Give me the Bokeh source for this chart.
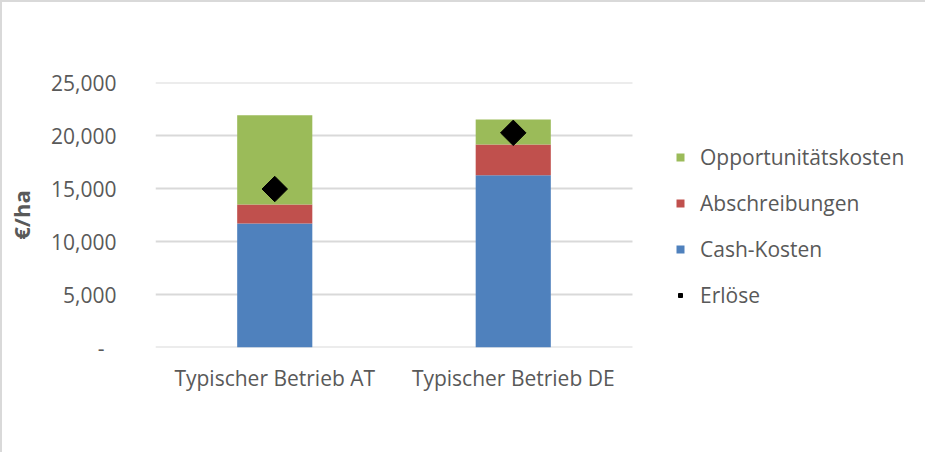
import numpy as np
from bokeh.plotting import figure
from bokeh.models import (ColumnDataSource, FixedTicker, NumeralTickFormatter,
                          Legend, LegendItem, Range1d)
from bokeh.embed import file_html
from bokeh.resources import INLINE

categories = ["Typischer Betrieb AT", "Typischer Betrieb DE"]
cash_kosten = [11700, 16250]
abschreibungen = [1800, 2900]
opportunitaetskosten = [8400, 2350]
erloese = [14950, 20250]
y_ticks = [0, 5000, 10000, 15000, 20000, 25000]

stack_names = ["cash", "abschr", "opp"]
colors = ["#4f81bd", "#c0504d", "#9bbb59"]
labels = ["Cash-Kosten", "Abschreibungen", "Opportunitätskosten"]

n = len(categories)
xpos = [i + 0.5 for i in range(n)]
src = ColumnDataSource(dict(x=xpos, cash=cash_kosten, abschr=abschreibungen,
                            opp=opportunitaetskosten, erl=erloese))

FONT = "Open Sans"
GRAY = "#595959"
W, LEFT = 925, 153
# category slot width in px (plot area of 2 categories is 477 px wide)
slot_px = 477 / n
x_end = (W - LEFT) / slot_px

p = figure(width=W, height=452, x_range=Range1d(0, x_end),
           y_range=Range1d(0, 25000), output_backend="svg", toolbar_location=None,
           min_border_left=LEFT, min_border_right=0, min_border_top=80,
           min_border_bottom=107,
           styles={"border-left": "2px solid #d9d9d9", "border-top": "2px solid #d9d9d9"})
p.outline_line_color = None
p.xgrid.grid_line_color = None
p.ygrid.grid_line_color = None

# horizontal gridlines limited to the category area
grid_src = ColumnDataSource(dict(y=y_ticks, x0=[0] * len(y_ticks), x1=[n] * len(y_ticks)))
p.segment(x0="x0", x1="x1", y0="y", y1="y", source=grid_src,
          line_color="#d9d9d9", line_width=2)

rs = p.vbar_stack(stack_names, x="x", width=0.315, color=colors, source=src,
                  line_color=None)
dia = p.scatter(x="x", y="erl", source=src, marker="square", angle=np.pi / 4,
                size=18, color="black")

p.xaxis.ticker = FixedTicker(ticks=xpos)
p.xaxis.major_label_overrides = {x: c for x, c in zip(xpos, categories)}
p.yaxis.ticker = FixedTicker(ticks=y_ticks)
p.yaxis.formatter = NumeralTickFormatter(format="0,0")
p.yaxis.major_label_overrides = {0: "-\u2007"}
for ax in (p.xaxis, p.yaxis):
    ax.axis_line_color = None
    ax.major_tick_line_color = None
    ax.minor_tick_line_color = None
    ax.major_label_text_font = FONT
    ax.major_label_text_font_size = "21px"
    ax.major_label_text_color = GRAY
p.yaxis.major_label_standoff = 33
p.xaxis.major_label_standoff = 10
p.yaxis.axis_label = "€/ha"
p.yaxis.axis_label_text_font = FONT
p.yaxis.axis_label_text_font_size = "22px"
p.yaxis.axis_label_text_font_style = "bold"
p.yaxis.axis_label_text_color = GRAY
p.yaxis.axis_label_standoff = 12

items = [LegendItem(label=labels[2], renderers=[rs[2]]),
         LegendItem(label=labels[1], renderers=[rs[1]]),
         LegendItem(label=labels[0], renderers=[rs[0]]),
         LegendItem(label="Erlöse", renderers=[dia])]
legend = Legend(items=items, location=(520, 38), orientation="vertical",
                background_fill_alpha=0, border_line_color=None,
                glyph_width=10, glyph_height=10, label_height=20, spacing=18,
                label_text_font=FONT, label_text_font_size="21px",
                label_text_color=GRAY, padding=0, margin=0, label_standoff=15)
p.add_layout(legend, "center")

open("out.html", "w").write(file_html(p, INLINE))
